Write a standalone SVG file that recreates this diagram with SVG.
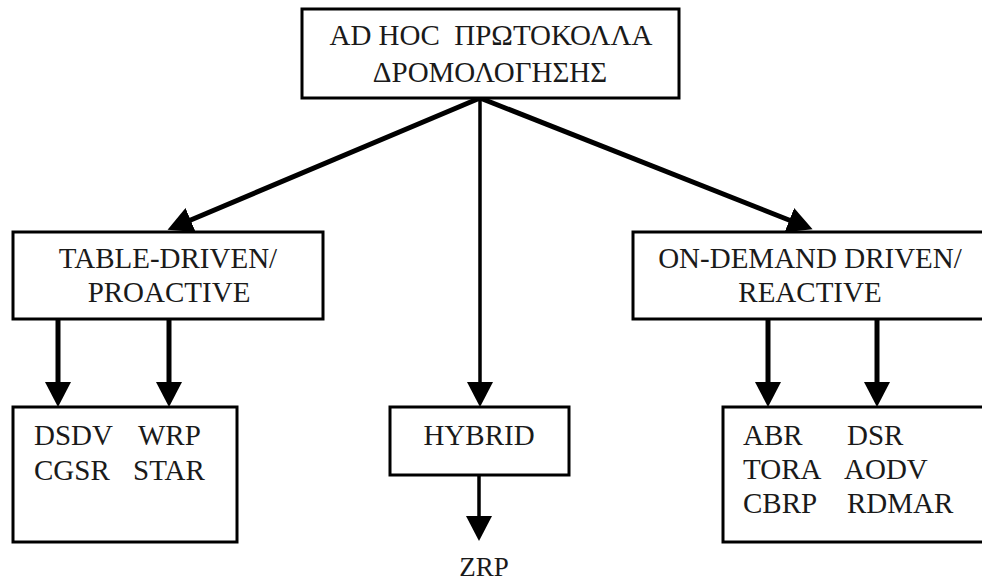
<svg xmlns="http://www.w3.org/2000/svg" width="982" height="582" viewBox="0 0 982 582">
  <style>
    .box { fill: #ffffff; stroke: #000000; stroke-width: 3; }
    .lbl { font-family: "Liberation Serif", "Times New Roman", serif; font-size: 29px; fill: #1a1a1a; }
    .mid { text-anchor: middle; }
    .small { font-size: 27px; }
    .edge { stroke: #000000; stroke-width: 5; fill: none; marker-end: url(#head); }
    .thin { stroke-width: 3.5; }
  </style>
  <defs>
    <marker id="head" markerUnits="userSpaceOnUse" viewBox="0 0 25 26" refX="5" refY="13" markerWidth="25" markerHeight="26" orient="auto">
      <path d="M0,0 L25,13 L0,26 Z" fill="#000000"/>
    </marker>
  </defs>

  <rect width="982" height="582" fill="#ffffff"/>

  <!-- connectors -->
  <g id="connectors">
    <line class="edge" x1="480" y1="98" x2="186" y2="222"/>
    <line class="edge" x1="480" y1="98" x2="794" y2="222"/>
    <line class="edge thin" x1="480" y1="98" x2="480" y2="387"/>
    <line class="edge" x1="58" y1="319" x2="58" y2="387"/>
    <line class="edge" x1="169" y1="319" x2="169" y2="387"/>
    <line class="edge" x1="768" y1="319" x2="768" y2="387"/>
    <line class="edge" x1="877" y1="319" x2="877" y2="387"/>
    <line class="edge thin" x1="479" y1="475" x2="479" y2="521"/>
  </g>

  <!-- root -->
  <g id="root">
    <rect class="box" x="302" y="9" width="377" height="89"/>
    <text class="lbl mid" x="491" y="45" xml:space="preserve">AD HOC  ΠΡΩΤΟΚΟΛΛΑ</text>
    <text class="lbl mid" x="490" y="82">ΔΡΟΜΟΛΟΓΗΣΗΣ</text>
  </g>

  <!-- table-driven branch -->
  <g id="table-driven">
    <rect class="box" x="13" y="232" width="310" height="87"/>
    <text class="lbl mid" x="168" y="268">TABLE-DRIVEN/</text>
    <text class="lbl mid" x="169" y="302">PROACTIVE</text>
  </g>

  <!-- on-demand branch -->
  <g id="on-demand">
    <rect class="box" x="633" y="232" width="360" height="87"/>
    <text class="lbl mid" x="810" y="268">ON-DEMAND DRIVEN/</text>
    <text class="lbl mid" x="810" y="302">REACTIVE</text>
  </g>

  <!-- hybrid branch -->
  <g id="hybrid">
    <rect class="box" x="390" y="407" width="179" height="68"/>
    <text class="lbl mid" x="479" y="445">HYBRID</text>
  </g>

  <!-- proactive protocols -->
  <g id="proactive-list">
    <rect class="box" x="13" y="407" width="224" height="135"/>
    <text class="lbl" x="34" y="445">DSDV</text>
    <text class="lbl" x="138" y="445">WRP</text>
    <text class="lbl" x="34" y="480">CGSR</text>
    <text class="lbl" x="133" y="480">STAR</text>
  </g>

  <!-- reactive protocols -->
  <g id="reactive-list">
    <rect class="box" x="723" y="407" width="270" height="135"/>
    <text class="lbl" x="743" y="445">ABR</text>
    <text class="lbl" x="847" y="445">DSR</text>
    <text class="lbl" x="743" y="479">TORA</text>
    <text class="lbl" x="844" y="479">AODV</text>
    <text class="lbl" x="743" y="513">CBRP</text>
    <text class="lbl" x="847" y="513">RDMAR</text>
  </g>

  <!-- hybrid protocol -->
  <g id="zrp">
    <text class="lbl mid small" x="484" y="576">ZRP</text>
  </g>
</svg>
